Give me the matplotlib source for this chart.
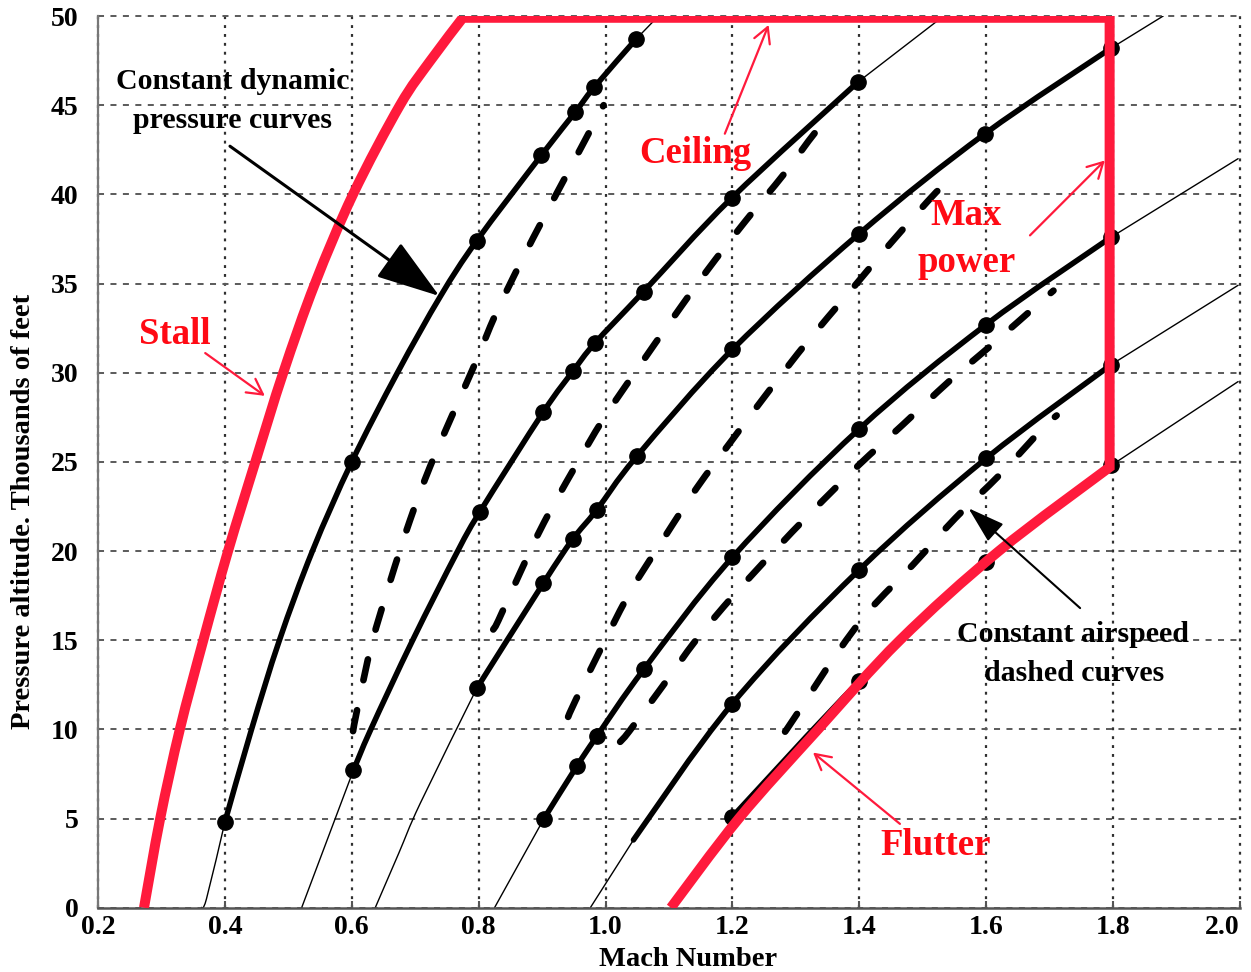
import matplotlib
matplotlib.use("Agg")
import matplotlib.pyplot as plt
import numpy as np
from matplotlib.path import Path
from matplotlib.patches import PathPatch

plt.rcParams['font.family'] = ['Liberation Serif', 'DejaVu Serif']
plt.rcParams['font.weight'] = 'bold'

# ---------------- data (Mach number, altitude in thousands of feet) ----------------
mach_ticks = [0.2, 0.4, 0.6, 0.8, 1.0, 1.2, 1.4, 1.6, 1.8, 2.0]
mach_labels = ['0.2', '0.4', '0.6', '0.8', '1.0', '1.2', '1.4', '1.6', '1.8', '2.0']
alt_ticks = [0, 5, 10, 15, 20, 25, 30, 35, 40, 45, 50]
alt_labels = ['0', '5', '10', '15', '20', '25', '30', '35', '40', '45', '50']

# flight envelope (red)
stall_mach = [0.2725, 0.298, 0.329, 0.366, 0.405, 0.448, 0.492, 0.542, 0.602, 0.676, 0.724, 0.775]
stall_alt = [0, 5, 10, 15, 20, 25, 30, 35, 40, 45, 47.5, 49.9]
ceiling_mach = [0.775, 1.7945]
ceiling_alt = [49.9, 49.9]
maxpower_mach = [1.7945, 1.7945]
maxpower_alt = [49.9, 24.7]
flutter_mach = [1.7945, 1.620, 1.464, 1.335, 1.210, 1.103]
flutter_alt = [24.7, 20, 15, 10, 5, 0]

# constant dynamic pressure curves: thin lower part, thick part, thin upper part, dots
qA_lo_m, qA_lo_h = [0.363, 0.371, 0.400], [0, 0.5, 4.8]
qA_m = [0.400, 0.442, 0.486, 0.538, 0.600, 0.672, 0.740, 0.797, 0.899, 0.952, 0.982, 1.048]
qA_h = [4.8, 10, 15, 20, 25, 30, 34.3, 37.4, 42.2, 44.6, 46.0, 48.7]
qA_hi_m, qA_hi_h = [1.048, 1.078], [48.7, 49.8]
qA_dot_m = [0.400, 0.600, 0.797, 0.899, 0.952, 0.982, 1.048]
qA_dot_h = [4.8, 25.0, 37.4, 42.2, 44.6, 46.0, 48.7]

qB_lo_m, qB_lo_h = [0.521, 0.6025], [0, 7.7]
qB_m = [0.6025, 0.630, 0.696, 0.767, 0.802, 0.902, 0.949, 0.983, 1.060, 1.199, 1.398]
qB_h = [7.7, 10, 15, 20, 22.2, 27.8, 30.1, 31.65, 34.55, 39.8, 46.3]
qB_hi_m, qB_hi_h = [1.398, 1.522], [46.3, 49.7]
qB_dot_m = [0.6025, 0.802, 0.902, 0.949, 0.983, 1.060, 1.199, 1.398]
qB_dot_h = [7.7, 22.2, 27.8, 30.1, 31.65, 34.55, 39.8, 46.3]

qC_lo_m, qC_lo_h = [0.637, 0.674, 0.708, 0.797], [0, 3.05, 5.86, 12.3]
qC_m = [0.797, 0.902, 0.948, 0.986, 1.049, 1.200, 1.400, 1.598, 1.797]
qC_h = [12.3, 18.2, 20.65, 22.3, 25.3, 31.3, 37.8, 43.4, 48.2]
qC_hi_m, qC_hi_h = [1.797, 1.879], [48.2, 50.0]
qC_dot_m = qC_m
qC_dot_h = qC_h

qD_lo_m, qD_lo_h = [0.825, 0.903], [0, 5.0]
qD_m = [0.903, 0.955, 0.986, 1.061, 1.200, 1.400, 1.600, 1.797]
qD_h = [5.0, 7.95, 9.6, 13.4, 19.65, 26.85, 32.7, 37.6]
qD_hi_m, qD_hi_h = [1.797, 1.997], [37.6, 42.0]
qD_dot_m = qD_m
qD_dot_h = qD_h

qE_lo_m, qE_lo_h = [0.976, 1.044], [0, 3.8]
qE_m = [1.044, 1.200, 1.400, 1.600, 1.797]
qE_h = [3.8, 11.45, 18.95, 25.2, 30.45]
qE_hi_m, qE_hi_h = [1.797, 1.997], [30.45, 34.9]
qE_dot_m = [1.200, 1.400, 1.600, 1.797]
qE_dot_h = [11.45, 18.95, 25.2, 30.45]

qF_m = [1.200, 1.400, 1.600, 1.797]
qF_h = [5.1, 12.7, 19.4, 24.8]
qF_hi_m, qF_hi_h = [1.797, 1.997], [24.8, 29.5]
qF_dot_m = qF_m
qF_dot_h = qF_h

# constant airspeed curves (dashed)
vA_m = [0.602, 0.609, 0.6315, 0.6605, 0.6915, 0.723, 0.7575, 0.793, 0.827, 0.8665, 0.905, 0.9455, 0.9865, 0.997]
vA_h = [9.9, 11.2, 14.8, 18.3, 21.7, 24.7, 27.55, 30.4, 33.3, 36.2, 38.85, 41.55, 44.3, 45.0]
vB_m = [0.823, 0.831, 0.8655, 0.903, 0.950, 0.9965, 1.050, 1.107, 1.1595, 1.2205, 1.2815, 1.330, 1.360]
vB_h = [15.6, 16.1, 18.8, 21.6, 24.6, 27.4, 30.2, 33.1, 35.7, 38.5, 41.15, 43.45, 44.6]
vC_m = [0.941, 0.953, 0.9965, 1.0395, 1.0925, 1.144, 1.200, 1.258, 1.3185, 1.384, 1.4455, 1.5075, 1.525]
vC_h = [10.7, 11.65, 14.8, 17.75, 20.75, 23.55, 26.25, 29.0, 31.75, 34.5, 37.1, 39.6, 40.25]
vD_m = [1.023, 1.0375, 1.0895, 1.1435, 1.2015, 1.2645, 1.325, 1.3985, 1.469, 1.541, 1.610, 1.6835, 1.706]
vD_h = [9.3, 9.9, 12.4, 15.05, 17.5, 19.95, 22.2, 24.8, 27.1, 29.5, 31.6, 33.9, 34.6]
vE_m = [1.283, 1.3015, 1.3655, 1.4165, 1.485, 1.5515, 1.622, 1.691, 1.711]
vE_h = [9.87, 10.85, 14.3, 16.7, 19.25, 21.85, 24.3, 26.95, 27.6]


# ---------------- helpers: smooth drawing through the read points ----------------
def smooth_pieces(xs, ys):
    """Cubic Bezier pieces passing through every given point (Catmull-Rom)."""
    P = np.column_stack([xs, ys]).astype(float)
    n = len(P)
    verts, codes = [P[0]], [Path.MOVETO]
    if n == 2:
        return verts + [P[1]], codes + [Path.LINETO]
    for i in range(n - 1):
        p0 = P[i - 1] if i > 0 else P[i]
        p1, p2 = P[i], P[i + 1]
        p3 = P[i + 2] if i + 2 < n else P[i + 1]
        verts += [p1 + (p2 - p0) / 6.0, p2 - (p3 - p1) / 6.0, p2]
        codes += [Path.CURVE4] * 3
    return verts, codes


def draw_curve(ax, xs, ys, **kw):
    v, c = smooth_pieces(xs, ys)
    patch = PathPatch(Path(v, c), fill=False, **kw)
    ax.add_patch(patch)
    return patch


# ---------------- figure ----------------
W, H = 1251, 972
fig = plt.figure(figsize=(W / 100, H / 100), dpi=100)
ax = fig.add_axes([98 / W, (H - 907.7) / H, (1240 - 98) / W, (907.7 - 16) / H])
ax.set_xlim(0.2, 2.0)
ax.set_ylim(0, 50)

ax.set_xticks(mach_ticks)
ax.set_xticklabels(mach_labels, fontsize=20, fontweight='bold')
ax.set_yticks(alt_ticks)
ax.set_yticklabels(alt_labels, fontsize=20, fontweight='bold')
ax.tick_params(axis='x', direction='in', length=5, width=1.5, color='#555555', pad=5)
ax.tick_params(axis='y', direction='in', length=0, pad=14)
ax.get_xticklabels()[-1].set_ha('right')

ax.yaxis.grid(True, color='#5a5a5a', linestyle=(0, (3.1, 3.3)), linewidth=1.4)
ax.xaxis.grid(True, color='#303030', linestyle=(0, (1.3, 2.7)), linewidth=1.6)
for gl in ax.get_xgridlines() + ax.get_ygridlines():
    gl.set_clip_on(False)
ax.set_axisbelow(True)

for s in ('top', 'right'):
    ax.spines[s].set_visible(False)
ax.spines['left'].set_color('#777777')
ax.spines['left'].set_linewidth(1.6)
ax.spines['bottom'].set_color('#555555')
ax.spines['bottom'].set_linewidth(1.8)

THIN = dict(edgecolor='black', lw=1.0, zorder=2, capstyle='round')
THICK = dict(edgecolor='black', lw=4.0, zorder=3, capstyle='round', joinstyle='round')
DOT = dict(color='black', marker='o', ms=11, ls='none', zorder=4)
DASH = dict(edgecolor='black', lw=4.8, zorder=3, capstyle='round', linestyle=(0, (3.2, 4.6)))

curves = [
    (qA_lo_m, qA_lo_h, qA_m, qA_h, qA_hi_m, qA_hi_h, qA_dot_m, qA_dot_h),
    (qB_lo_m, qB_lo_h, qB_m, qB_h, qB_hi_m, qB_hi_h, qB_dot_m, qB_dot_h),
    (qC_lo_m, qC_lo_h, qC_m, qC_h, qC_hi_m, qC_hi_h, qC_dot_m, qC_dot_h),
    (qD_lo_m, qD_lo_h, qD_m, qD_h, qD_hi_m, qD_hi_h, qD_dot_m, qD_dot_h),
    (qE_lo_m, qE_lo_h, qE_m, qE_h, qE_hi_m, qE_hi_h, qE_dot_m, qE_dot_h),
    (None, None, qF_m, qF_h, qF_hi_m, qF_hi_h, qF_dot_m, qF_dot_h),
]
for lo_m, lo_h, m, h, hi_m, hi_h, dm, dh in curves:
    if lo_m is not None:
        draw_curve(ax, lo_m, lo_h, **THIN)
    draw_curve(ax, m, h, **THICK)
    draw_curve(ax, hi_m, hi_h, **THIN)
    ax.plot(dm, dh, **DOT)

for m, h in [(vA_m, vA_h), (vB_m, vB_h), (vC_m, vC_h), (vD_m, vD_h), (vE_m, vE_h)]:
    draw_curve(ax, m, h, **DASH)

# red envelope drawn as one continuous path: smooth stall, straight ceiling/max power, smooth flutter
RED = '#ff1a3c'
v1, c1 = smooth_pieces(stall_mach, stall_alt)
v2 = [np.array([ceiling_mach[1], ceiling_alt[1]]), np.array([maxpower_mach[1], maxpower_alt[1]])]
c2 = [Path.LINETO, Path.LINETO]
v3, c3 = smooth_pieces(flutter_mach, flutter_alt)
env = Path(v1 + v2 + v3[1:], c1 + c2 + c3[1:])
ax.add_patch(PathPatch(env, fill=False, edgecolor=RED, lw=7.2, zorder=6,
                       joinstyle='miter', capstyle='butt'))

# ---------------- annotations ----------------
TXT = dict(ha='center', va='baseline', fontweight='bold', zorder=8)
ax.text(0.4128, 45.92, 'Constant dynamic', fontsize=21.5, color='black', **TXT)
ax.text(0.4120, 43.73, 'pressure curves', fontsize=21.5, color='black', **TXT)
ax.text(1.736, 14.92, 'Constant airspeed', fontsize=21.5, color='black', **TXT)
ax.text(1.738, 12.73, 'dashed curves', fontsize=21.5, color='black', **TXT)

RTXT = '#ff0a14'
ax.text(0.3214, 31.6, 'Stall', fontsize=26.5, color=RTXT, **TXT)
ax.text(1.142, 41.78, 'Ceiling', fontsize=26.5, color=RTXT, **TXT)
ax.text(1.569, 38.29, 'Max', fontsize=26.5, color=RTXT, **TXT)
ax.text(1.569, 35.67, 'power', fontsize=26.5, color=RTXT, **TXT)
ax.text(1.5207, 2.96, 'Flutter', fontsize=26.5, color=RTXT, **TXT)

ax.annotate('', xy=(0.738, 34.3), xytext=(0.408, 42.7),
            arrowprops=dict(arrowstyle='-|>,head_length=1.0,head_width=0.33', color='black',
                            lw=2.2, mutation_scale=40, shrinkA=0, shrinkB=0), zorder=7)
ax.annotate('', xy=(1.572, 22.4), xytext=(1.748, 16.8),
            arrowprops=dict(arrowstyle='-|>,head_length=1.15,head_width=0.36', color='black',
                            lw=1.5, mutation_scale=20, shrinkA=0, shrinkB=0), zorder=7)
for tip, tail in [((0.463, 28.7), (0.369, 31.1)),
                  ((1.257, 49.5), (1.188, 43.4)),
                  ((1.787, 41.9), (1.669, 37.7)),
                  ((1.327, 8.7), (1.464, 4.7))]:
    ax.annotate('', xy=tip, xytext=tail,
                arrowprops=dict(arrowstyle='->,head_length=0.55,head_width=0.3', color=RED,
                                lw=1.6, mutation_scale=20, shrinkA=0, shrinkB=0), zorder=7)

fig.text(688 / W, (H - 966) / H, 'Mach Number', ha='center', va='baseline',
         fontsize=20.5, fontweight='bold')
fig.text(24 / W, 1 - 511 / H, 'Pressure altitude. Thousands of feet', rotation=90,
         ha='center', va='center', fontsize=20.5, fontweight='bold')

fig.savefig('out.png', dpi=100)
